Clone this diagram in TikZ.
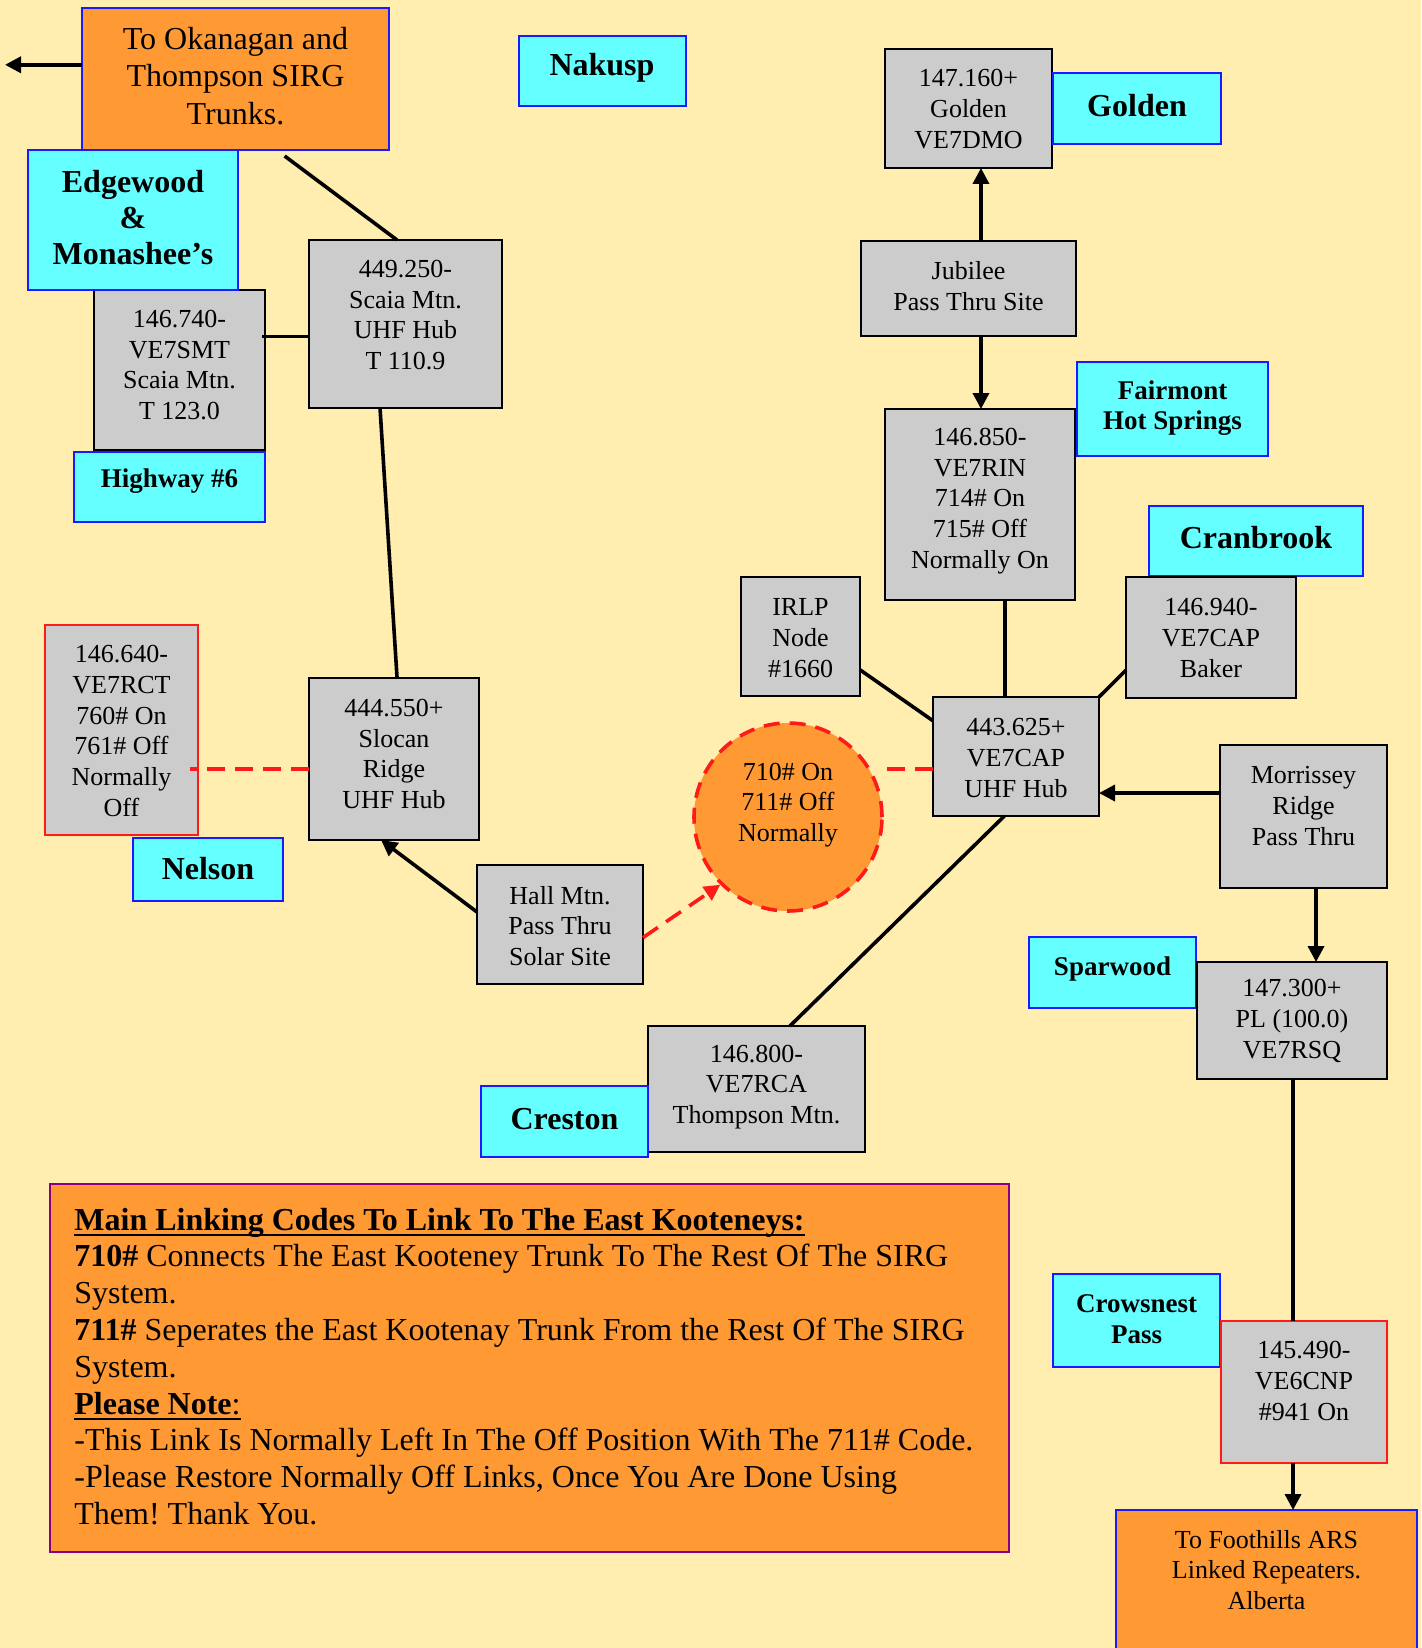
\documentclass[tikz,border=0pt]{standalone}
\usepackage{fontspec}
\setmainfont{Liberation Serif}
\usetikzlibrary{calc,fit,arrows.meta}
\definecolor{bgy}{HTML}{FFEEB0}
\definecolor{orng}{HTML}{FF9933}
\definecolor{cyn}{HTML}{66FFFF}
\definecolor{gry}{HTML}{CCCCCC}
\definecolor{blu}{HTML}{1A1AFF}
\definecolor{rd}{HTML}{FF1A1A}
\definecolor{purp}{HTML}{880088}
\newsavebox\ulbox
\newcommand{\thickul}[1]{\sbox\ulbox{#1}\rlap{\rule[-3pt]{\wd\ulbox}{1.3pt}}\usebox\ulbox}
\newcommand{\bbox}[6]{\node[#2, fit={(#3,#4)(#5,#6)}] (#1) {};}
\frenchspacing
\begin{document}
\begin{tikzpicture}[x=0.5pt, y=-0.5pt,
  base/.style={inner sep=0pt, outer sep=0pt, line width=1.3pt},
  gbox/.style={base, draw=black, fill=gry},
  rbox/.style={base, draw=rd, fill=gry},
  cbox/.style={base, draw=blu, fill=cyn},
  obox/.style={base, draw=blu, fill=orng},
  mbox/.style={base, draw=purp, fill=orng},
  gtxt/.style={align=center, inner sep=0pt, font=\fontsize{13}{15.4}\selectfont},
  btxt/.style={align=center, inner sep=0pt, font=\fontsize{16}{18}\selectfont\bfseries},
  stxt/.style={align=center, inner sep=0pt, font=\fontsize{13.5}{15.2}\selectfont\bfseries},
  otxt/.style={align=center, inner sep=0pt, font=\fontsize{16}{18.6}\selectfont},
  conn/.style={line width=1.8pt, draw=black},
  arr/.style={-{Triangle[length=8pt,width=8pt]}},
  rdash/.style={line width=1.8pt, draw=rd, dash pattern=on 9pt off 5pt},
  rarr/.style={-{Triangle[length=8pt,width=8pt,fill=rd]}}
]
\useasboundingbox (0,0) rectangle (1421,1648);
\clip (0,0) rectangle (1421,1648);
\fill[bgy] (0,0) rectangle (1421,1648);

% boxes
\bbox{okan}{obox}{82}{8}{389}{150}
\bbox{nakusp}{cbox}{519}{36}{686}{106}
\bbox{smt}{gbox}{94}{290}{265}{450}
\bbox{edge}{cbox}{28}{150}{238}{290}
\bbox{scaia}{gbox}{309}{240}{502}{408}
\bbox{hwy}{cbox}{74}{452}{265}{522}
\bbox{dmo}{gbox}{885}{49}{1052}{168}
\bbox{golden}{cbox}{1053}{73}{1221}{144}
\bbox{jub}{gbox}{861}{241}{1076}{336}
\bbox{fair}{cbox}{1077}{362}{1268}{456}
\bbox{rin}{gbox}{885}{409}{1075}{600}
\bbox{cran}{cbox}{1149}{506}{1363}{576}
\bbox{baker}{gbox}{1126}{577}{1296}{698}
\bbox{irlp}{gbox}{741}{577}{860}{696}
\bbox{capb}{gbox}{933}{697}{1099}{816}
\bbox{morr}{gbox}{1220}{745}{1387}{888}
\node[circle, minimum size=94pt, inner sep=0pt, fill=orng, draw=rd, line width=1.8pt, dash pattern=on 8pt off 5pt] (circ) at (788,817) {};
\bbox{slocan}{gbox}{309}{678}{479}{840}
\bbox{rct}{rbox}{45}{625}{198}{835}
\bbox{nelson}{cbox}{133}{838}{283}{901}
\bbox{hall}{gbox}{477}{865}{643}{984}
\bbox{rca}{gbox}{648}{1026}{865}{1152}
\bbox{creston}{cbox}{481}{1086}{648}{1157}
\bbox{spar}{cbox}{1029}{937}{1196}{1008}
\bbox{rsq}{gbox}{1197}{962}{1387}{1079}
\bbox{crow}{cbox}{1053}{1274}{1220}{1367}
\bbox{cnp}{rbox}{1221}{1321}{1387}{1463}
\bbox{foot}{obox}{1116}{1510}{1417}{1660}
\bbox{main}{mbox}{50}{1184}{1009}{1552}

% texts
\node[otxt] (okan-t) at (235.5,76) {To Okanagan and\\Thompson SIRG\\Trunks.};
\node[btxt] (nakusp-t) at (602,68) {Nakusp};
\node[btxt] (edge-t) at (133,218) {Edgewood\\\&\\Monashee’s};
\node[gtxt] (smt-t) at (179.5,365) {146.740-\\VE7SMT\\Scaia Mtn.\\T 123.0};
\node[gtxt] (scaia-t) at (405.5,315) {449.250-\\Scaia Mtn.\\UHF Hub\\T 110.9};
\node[stxt] (hwy-t) at (169.5,481) {Highway \#6};
\node[gtxt] (dmo-t) at (968.5,109) {147.160+\\Golden\\VE7DMO};
\node[btxt] (golden-t) at (1137,106) {Golden};
\node[gtxt] (jub-t) at (968.5,286) {Jubilee\\Pass Thru Site};
\node[stxt] (fair-t) at (1172.5,408) {Fairmont\\Hot Springs};
\node[gtxt] (rin-t) at (980,501) {146.850-\\VE7RIN\\714\# On\\715\# Off\\Normally On};
\node[btxt] (cran-t) at (1256,538) {Cranbrook};
\node[gtxt] (baker-t) at (1211,638) {146.940-\\VE7CAP\\Baker};
\node[gtxt] (irlp-t) at (800.5,638) {IRLP\\Node\\\#1660};
\node[gtxt] (capb-t) at (1016,758) {443.625+\\VE7CAP\\UHF Hub};
\node[gtxt] (morr-t) at (1303.5,806) {Morrissey\\Ridge\\Pass Thru};
\node[gtxt] (circ-t) at (788,805) {710\# On\\711\# Off\\Normally};
\node[gtxt] (slocan-t) at (394,754) {444.550+\\Slocan\\Ridge\\UHF Hub};
\node[gtxt] (rct-t) at (121.5,731) {146.640-\\VE7RCT\\760\# On\\761\# Off\\Normally\\Off};
\node[btxt] (nelson-t) at (208,869) {Nelson};
\node[gtxt] (hall-t) at (560,926) {Hall Mtn.\\Pass Thru\\Solar Site};
\node[gtxt] (rca-t) at (756.5,1087) {146.800-\\VE7RCA\\Thompson Mtn.};
\node[btxt] (creston-t) at (564.5,1119) {Creston};
\node[stxt] (spar-t) at (1112.5,969) {Sparwood};
\node[gtxt] (rsq-t) at (1292,1021) {147.300+\\PL (100.0)\\VE7RSQ};
\node[stxt] (crow-t) at (1136.5,1319) {Crowsnest\\Pass};
\node[gtxt] (cnp-t) at (1304,1381) {145.490-\\VE6CNP\\\#941 On};
\node[gtxt] (foot-t) at (1266.5,1570) {To Foothills ARS\\Linked Repeaters.\\Alberta};
\node[anchor=west, align=left, inner sep=0pt, font=\fontsize{16}{18.4}\selectfont] (main-t) at (74,1366.5)
 {\thickul{\textbf{Main Linking Codes To Link To The East Kooteneys:}}\\
  \textbf{710\#} Connects The East Kooteney Trunk To The Rest Of The SIRG\\
  System.\\
  \textbf{711\#} Seperates the East Kootenay Trunk From the Rest Of The SIRG\\
  System.\\
  \thickul{\textbf{Please Note}:}\\
  -This Link Is Normally Left In The Off Position With The 711\# Code.\\
  -Please Restore Normally Off Links, Once You Are Done Using\\
  Them! Thank You.};

% connectors
\coordinate (west) at (5,65);
\draw[conn,arr] ($(okan.north west)!0.4!(okan.south west)$) coordinate (p11) -- (p11 -| west);
\draw[conn] ($(okan.south west)!0.66!(okan.south east)+(0,6)$) -- ($(scaia.north west)!0.456!(scaia.north east)$);
\draw[conn] ($(smt.north east)!0.29!(smt.south east)+(-3,0)$) coordinate (p1) -- (p1 -| scaia.west);
\draw[conn] ($(scaia.south west)!0.368!(scaia.south east)$) -- ($(slocan.north west)!0.518!(slocan.north east)$);
\draw[rdash] ($(slocan.north west)!0.562!(slocan.south west)$) coordinate (p2) -- ($(p2 -| rct.east)+(-8,0)$);
\draw[conn,arr] ($(hall.north west)!0.395!(hall.south west)$) -- ($(slocan.south west)!0.424!(slocan.south east)$);
\draw[rdash,rarr] ($(hall.north east)!0.61!(hall.south east)$) -- (circ.225);
\draw[rdash] ($(capb.north west)!0.605!(capb.south west)$) coordinate (p3) -- (p3 -| circ.east);
\draw[conn] ($(irlp.north east)!0.78!(irlp.south east)$) -- ($(capb.north west)!0.2!(capb.south west)$);
\draw[conn] ($(rin.south west)!0.63!(rin.south east)$) coordinate (p4) -- (p4 |- capb.north);
\draw[conn] ($(baker.north west)!0.77!(baker.south west)$) -- (capb.north east);
\path ($(capb.north east)!0.807!(capb.south east)$) coordinate (p5);
\draw[conn,arr] (p5 -| morr.west) -- (p5);
\draw[conn] ($(capb.south west)!0.43!(capb.south east)$) -- ($(rca.north west)!0.654!(rca.north east)$);
\draw[conn,arr] ($(morr.south west)!0.575!(morr.south east)$) coordinate (p6) -- (p6 |- rsq.north);
\draw[conn] ($(rsq.south west)!0.505!(rsq.south east)$) coordinate (p7) -- (p7 |- cnp.north);
\draw[conn,arr] ($(cnp.south west)!0.434!(cnp.south east)$) coordinate (p8) -- (p8 |- foot.north);
\draw[conn,arr] ($(jub.north west)!0.558!(jub.north east)$) coordinate (p9) -- (p9 |- dmo.south);
\draw[conn,arr] ($(jub.south west)!0.558!(jub.south east)$) coordinate (p10) -- (p10 |- rin.north);
\end{tikzpicture}
\end{document}
